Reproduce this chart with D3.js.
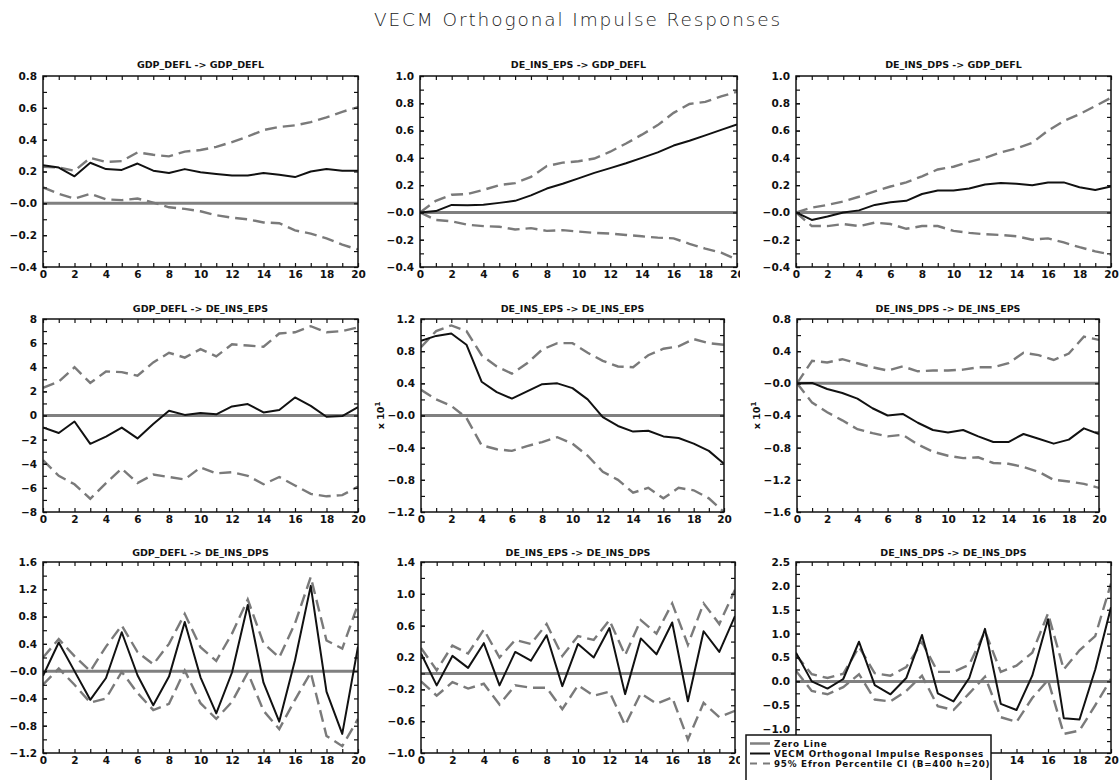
<!DOCTYPE html>
<html>
<head>
<meta charset="utf-8">
<script src="https://cdn.jsdelivr.net/npm/d3@7"></script>
<style>
  body { margin: 0; background: #fff; }
  svg { display: block; }
</style>
</head>
<body>
<svg id="chart" width="1119" height="780"></svg>
<script>
// horizon
const steps = d3.range(0, 21);

// panel titles (impulse -> response)
const panelTitles = [
  "GDP_DEFL -> GDP_DEFL", "DE_INS_EPS -> GDP_DEFL", "DE_INS_DPS -> GDP_DEFL",
  "GDP_DEFL -> DE_INS_EPS", "DE_INS_EPS -> DE_INS_EPS", "DE_INS_DPS -> DE_INS_EPS",
  "GDP_DEFL -> DE_INS_DPS", "DE_INS_EPS -> DE_INS_DPS", "DE_INS_DPS -> DE_INS_DPS"
];

// y domains, label step and labels (bottom to top)
const yDomains = [[-0.4, 0.8], [-0.4, 1.0], [-0.4, 1.0], [-8, 8], [-1.2, 1.2], [-1.6, 0.8], [-1.2, 1.6], [-1.0, 1.4], [-1.5, 2.5]];
const yLabelSteps = [0.2, 0.2, 0.2, 2, 0.4, 0.4, 0.4, 0.4, 0.5];
const yTickLabels = [
  ["−0.4", "−0.2", "−0.0", "0.2", "0.4", "0.6", "0.8"],
  ["−0.4", "−0.2", "−0.0", "0.2", "0.4", "0.6", "0.8", "1.0"],
  ["−0.4", "−0.2", "−0.0", "0.2", "0.4", "0.6", "0.8", "1.0"],
  ["−8", "−6", "−4", "−2", "0", "2", "4", "6", "8"],
  ["−1.2", "−0.8", "−0.4", "−0.0", "0.4", "0.8", "1.2"],
  ["−1.6", "−1.2", "−0.8", "−0.4", "−0.0", "0.4", "0.8"],
  ["−1.2", "−0.8", "−0.4", "−0.0", "0.4", "0.8", "1.2", "1.6"],
  ["−1.0", "−0.6", "−0.2", "0.2", "0.6", "1.0", "1.4"],
  ["−1.5", "−1.0", "−0.5", "0.0", "0.5", "1.0", "1.5", "2.0", "2.5"]
];
const yScaleNotes = ["", "", "", "", "10", "10", "", "", ""];

// GDP_DEFL -> GDP_DEFL
const gdpGdpResp = [0.24, 0.225, 0.17, 0.255, 0.215, 0.21, 0.25, 0.205, 0.19, 0.215, 0.195, 0.185, 0.175, 0.175, 0.19, 0.18, 0.165, 0.2, 0.215, 0.205, 0.205];
const gdpGdpUp = [0.23, 0.225, 0.205, 0.285, 0.26, 0.265, 0.32, 0.305, 0.295, 0.325, 0.335, 0.355, 0.385, 0.42, 0.46, 0.48, 0.49, 0.51, 0.54, 0.575, 0.605];
const gdpGdpLo = [0.10, 0.06, 0.03, 0.06, 0.025, 0.02, 0.03, 0.005, -0.025, -0.035, -0.05, -0.075, -0.09, -0.10, -0.12, -0.125, -0.17, -0.19, -0.22, -0.26, -0.29];

// DE_INS_EPS -> GDP_DEFL
const epsGdpResp = [0.0, 0.01, 0.055, 0.053, 0.057, 0.07, 0.085, 0.125, 0.175, 0.21, 0.25, 0.29, 0.325, 0.36, 0.40, 0.44, 0.49, 0.525, 0.565, 0.605, 0.645];
const epsGdpUp = [0.0, 0.085, 0.13, 0.135, 0.165, 0.20, 0.215, 0.26, 0.34, 0.365, 0.375, 0.395, 0.445, 0.505, 0.57, 0.64, 0.73, 0.795, 0.81, 0.85, 0.885];
const epsGdpLo = [0.0, -0.055, -0.065, -0.09, -0.1, -0.105, -0.125, -0.115, -0.135, -0.13, -0.14, -0.15, -0.155, -0.165, -0.175, -0.185, -0.19, -0.23, -0.265, -0.295, -0.345];

// DE_INS_DPS -> GDP_DEFL
const dpsGdpResp = [0.0, -0.055, -0.03, 0.0, 0.015, 0.055, 0.075, 0.085, 0.135, 0.16, 0.16, 0.175, 0.205, 0.215, 0.21, 0.2, 0.22, 0.22, 0.185, 0.165, 0.19];
const dpsGdpUp = [0.0, 0.035, 0.055, 0.08, 0.115, 0.155, 0.19, 0.22, 0.265, 0.315, 0.335, 0.37, 0.40, 0.44, 0.47, 0.51, 0.60, 0.67, 0.72, 0.78, 0.84];
const dpsGdpLo = [0.0, -0.1, -0.1, -0.085, -0.1, -0.075, -0.085, -0.12, -0.1, -0.1, -0.135, -0.15, -0.16, -0.165, -0.175, -0.2, -0.19, -0.22, -0.255, -0.285, -0.31];

// GDP_DEFL -> DE_INS_EPS
const gdpEpsResp = [-1.0, -1.45, -0.5, -2.35, -1.75, -1.0, -1.9, -0.7, 0.4, 0.05, 0.2, 0.1, 0.75, 0.95, 0.25, 0.45, 1.5, 0.8, -0.1, -0.05, 0.7];
const gdpEpsUp = [2.3, 2.8, 4.0, 2.7, 3.65, 3.6, 3.3, 4.4, 5.2, 4.8, 5.5, 4.9, 5.9, 5.8, 5.7, 6.8, 6.9, 7.4, 6.9, 7.0, 7.3];
const gdpEpsLo = [-3.7, -5.0, -5.7, -6.9, -5.6, -4.4, -5.6, -4.9, -5.1, -5.3, -4.3, -4.8, -4.7, -5.0, -5.7, -5.1, -5.8, -6.5, -6.7, -6.6, -5.9];

// DE_INS_EPS -> DE_INS_EPS (axis units x 10)
const epsEpsResp = [0.93, 0.99, 1.02, 0.88, 0.42, 0.29, 0.21, 0.3, 0.39, 0.4, 0.34, 0.2, -0.02, -0.13, -0.2, -0.19, -0.26, -0.28, -0.35, -0.44, -0.6];
const epsEpsUp = [0.85, 1.05, 1.12, 1.05, 0.75, 0.61, 0.52, 0.65, 0.82, 0.9, 0.9, 0.78, 0.68, 0.61, 0.6, 0.75, 0.83, 0.86, 0.95, 0.9, 0.88];
const epsEpsLo = [0.32, 0.2, 0.12, -0.03, -0.37, -0.42, -0.44, -0.38, -0.33, -0.27, -0.35, -0.5, -0.7, -0.8, -0.96, -0.9, -1.03, -0.9, -0.93, -1.03, -1.2];

// DE_INS_DPS -> DE_INS_EPS (axis units x 10)
const dpsEpsResp = [0.0, 0.005, -0.07, -0.12, -0.19, -0.31, -0.4, -0.38, -0.49, -0.58, -0.61, -0.58, -0.66, -0.73, -0.73, -0.63, -0.69, -0.75, -0.7, -0.56, -0.63];
const dpsEpsUp = [0.0, 0.28, 0.26, 0.3, 0.25, 0.2, 0.16, 0.21, 0.15, 0.16, 0.16, 0.17, 0.2, 0.2, 0.25, 0.38, 0.35, 0.29, 0.37, 0.58, 0.54];
const dpsEpsLo = [0.0, -0.24, -0.36, -0.46, -0.57, -0.62, -0.66, -0.64, -0.76, -0.85, -0.9, -0.93, -0.92, -0.99, -1.0, -1.04, -1.1, -1.2, -1.22, -1.25, -1.3];

// GDP_DEFL -> DE_INS_DPS
const gdpDpsResp = [-0.07, 0.42, 0.0, -0.42, -0.1, 0.57, -0.06, -0.5, -0.08, 0.72, -0.09, -0.62, -0.02, 0.97, -0.17, -0.74, 0.16, 1.25, -0.3, -0.92, 0.36];
const gdpDpsUp = [0.2, 0.47, 0.22, 0.0, 0.36, 0.67, 0.28, 0.1, 0.4, 0.84, 0.35, 0.15, 0.55, 1.05, 0.41, 0.2, 0.7, 1.38, 0.45, 0.33, 0.98];
const gdpDpsLo = [-0.2, 0.04, -0.2, -0.46, -0.4, -0.01, -0.32, -0.57, -0.48, 0.01, -0.47, -0.7, -0.45, -0.02, -0.58, -0.85, -0.42, -0.02, -0.95, -1.1, -0.7];

// DE_INS_EPS -> DE_INS_DPS
const epsDpsResp = [0.25, -0.15, 0.22, 0.07, 0.38, -0.15, 0.27, 0.16, 0.48, -0.16, 0.37, 0.2, 0.57, -0.26, 0.44, 0.24, 0.64, -0.35, 0.53, 0.27, 0.72];
const epsDpsUp = [0.32, 0.04, 0.35, 0.25, 0.55, 0.2, 0.42, 0.37, 0.62, 0.22, 0.47, 0.42, 0.67, 0.23, 0.67, 0.5, 0.88, 0.36, 0.88, 0.62, 1.05];
const epsDpsLo = [-0.1, -0.28, -0.11, -0.19, -0.13, -0.39, -0.15, -0.18, -0.18, -0.45, -0.15, -0.28, -0.23, -0.65, -0.25, -0.38, -0.3, -0.83, -0.37, -0.55, -0.47];

// DE_INS_DPS -> DE_INS_DPS
const dpsDpsResp = [0.6, 0.0, -0.15, 0.05, 0.83, -0.08, -0.27, 0.07, 0.97, -0.25, -0.42, 0.07, 1.1, -0.47, -0.6, 0.12, 1.3, -0.77, -0.8, 0.25, 1.55];
const dpsDpsUp = [0.55, 0.15, 0.07, 0.16, 0.72, 0.17, 0.12, 0.3, 0.82, 0.2, 0.2, 0.35, 1.05, 0.2, 0.33, 0.6, 1.42, 0.25, 0.65, 0.95, 2.05];
const dpsDpsLo = [0.22, -0.2, -0.27, -0.12, 0.15, -0.38, -0.42, -0.2, 0.12, -0.52, -0.6, -0.25, 0.1, -0.75, -0.85, -0.35, 0.03, -1.1, -1.03, -0.5, 0.05];

const responses = [gdpGdpResp, epsGdpResp, dpsGdpResp, gdpEpsResp, epsEpsResp, dpsEpsResp, gdpDpsResp, epsDpsResp, dpsDpsResp];
const uppers = [gdpGdpUp, epsGdpUp, dpsGdpUp, gdpEpsUp, epsEpsUp, dpsEpsUp, gdpDpsUp, epsDpsUp, dpsDpsUp];
const lowers = [gdpGdpLo, epsGdpLo, dpsGdpLo, gdpEpsLo, epsEpsLo, dpsEpsLo, gdpDpsLo, epsDpsLo, dpsDpsLo];

const legendLabels = ["Zero Line", "VECM Orthogonal Impulse Responses", "95% Efron Percentile CI (B=400 h=20)"];

// frame positions of each panel
const frames = [
  { x0: 43, x1: 358, y0: 76, y1: 267 }, { x0: 420, x1: 737, y0: 76, y1: 267 }, { x0: 796, x1: 1111, y0: 76, y1: 267 },
  { x0: 43, x1: 358, y0: 319, y1: 512 }, { x0: 421, x1: 724, y0: 319, y1: 512 }, { x0: 797, x1: 1099, y0: 319, y1: 512 },
  { x0: 43, x1: 358, y0: 562, y1: 753 }, { x0: 421, x1: 735, y0: 562, y1: 753 }, { x0: 796, x1: 1111, y0: 562, y1: 753 }
];
const titleY = [68, 68, 68, 312, 312, 312, 556, 556, 556];

// legend box (it sits over the lower right panel)
const legendBox = { x: 746, y: 735, w: 245, h: 50 };

const labelFont = "'DejaVu Sans', Arial, sans-serif";
const grey = "#7a7a7a";

const svg = d3.select("#chart");
const defs = svg.append("defs");

// middle column gets cut at the right column border
defs.append("clipPath").attr("id", "colclip")
  .append("rect").attr("x", 0).attr("y", 0).attr("width", 740).attr("height", 780);

svg.append("text")
  .attr("x", 578)
  .attr("y", 26)
  .attr("text-anchor", "middle")
  .attr("font-family", labelFont)
  .attr("font-weight", 200)
  .attr("font-size", 18.5)
  .attr("letter-spacing", 1.9)
  .attr("fill", "#222")
  .text("VECM Orthogonal Impulse Responses");

function underLegend(px, py) {
  return px > legendBox.x && px < legendBox.x + legendBox.w + 6 && py > legendBox.y - 4;
}

panelTitles.forEach(function (title, i) {
  const f = frames[i];
  const g = svg.append("g");
  if (i % 3 === 1) g.attr("clip-path", "url(#colclip)");

  const x = d3.scaleLinear().domain([0, 20]).range([f.x0, f.x1]);
  const y = d3.scaleLinear().domain(yDomains[i]).range([f.y1, f.y0]);

  const st = yLabelSteps[i];
  const lo = yDomains[i][0], hi = yDomains[i][1];
  const nMajor = Math.round((hi - lo) / st);
  const majorVals = d3.range(nMajor + 1).map(k => lo + k * st);
  const minorVals = d3.range(2 * nMajor + 1).map(k => lo + k * st / 2);

  // clip for the curves
  defs.append("clipPath").attr("id", "plot" + i)
    .append("rect").attr("x", f.x0).attr("y", f.y0 - 1)
    .attr("width", f.x1 - f.x0).attr("height", f.y1 - f.y0 + 2);

  const plot = g.append("g").attr("clip-path", `url(#plot${i})`);

  // zero line
  plot.append("line")
    .attr("x1", f.x0).attr("x2", f.x1)
    .attr("y1", y(0)).attr("y2", y(0))
    .attr("stroke", "#808080")
    .attr("stroke-width", 3);

  const line = d3.line()
    .x((d, k) => x(steps[k]))
    .y(d => y(d));

  [uppers[i], lowers[i]].forEach(function (band) {
    plot.append("path")
      .datum(band)
      .attr("fill", "none")
      .attr("stroke", grey)
      .attr("stroke-width", 2.4)
      .attr("stroke-dasharray", "12,6")
      .attr("d", line);
  });

  plot.append("path")
    .datum(responses[i])
    .attr("fill", "none")
    .attr("stroke", "#111")
    .attr("stroke-width", 2)
    .attr("stroke-linejoin", "round")
    .attr("d", line);

  // axes, ticks pointing inward; labels hidden by the legend are left out
  const bottom = g.append("g")
    .attr("transform", `translate(0,${f.y1})`)
    .call(d3.axisBottom(x).tickValues(steps).tickSize(-4).tickPadding(4)
      .tickFormat(d => (d % 2 || underLegend(x(d), f.y1 + 6)) ? "" : d));
  g.append("g")
    .attr("transform", `translate(0,${f.y0})`)
    .call(d3.axisTop(x).tickValues(steps).tickSize(-4).tickFormat(""));
  const left = g.append("g")
    .attr("transform", `translate(${f.x0},0)`)
    .call(d3.axisLeft(y).tickValues(majorVals).tickSize(-4).tickPadding(6)
      .tickFormat((d, k) => underLegend(f.x0 - 10, y(d)) ? "" : yTickLabels[i][k]));
  g.append("g")
    .attr("transform", `translate(${f.x0},0)`)
    .call(d3.axisLeft(y).tickValues(minorVals).tickSize(-4).tickFormat(""));
  g.append("g")
    .attr("transform", `translate(${f.x1},0)`)
    .call(d3.axisRight(y).tickValues(minorVals).tickSize(-4).tickFormat(""));

  g.selectAll(".domain").remove();
  g.selectAll(".tick line").attr("stroke", "#111").attr("stroke-width", 1.2);
  [bottom, left].forEach(a => a.selectAll("text")
    .attr("font-family", labelFont)
    .attr("font-weight", "bold")
    .attr("font-size", 10.5)
    .attr("fill", "#111"));

  // frame
  g.append("rect")
    .attr("x", f.x0).attr("y", f.y0)
    .attr("width", f.x1 - f.x0).attr("height", f.y1 - f.y0)
    .attr("fill", "none")
    .attr("stroke", "#111")
    .attr("stroke-width", 1.5);

  g.append("text")
    .attr("x", (f.x0 + f.x1) / 2)
    .attr("y", titleY[i])
    .attr("text-anchor", "middle")
    .attr("font-family", labelFont)
    .attr("font-weight", "bold")
    .attr("font-size", 9.5)
    .attr("fill", "#111")
    .text(title);

  if (yScaleNotes[i]) {
    const note = g.append("text")
      .attr("transform", `translate(${f.x0 - 37},${(f.y0 + f.y1) / 2}) rotate(-90)`)
      .attr("text-anchor", "middle")
      .attr("font-family", labelFont)
      .attr("font-weight", "bold")
      .attr("font-size", 9.5)
      .attr("fill", "#111");
    note.append("tspan").text("x " + yScaleNotes[i]);
    note.append("tspan").attr("dy", -4).attr("font-size", 7).text("1");
  }
});

// legend
const legend = svg.append("g");
legend.append("rect")
  .attr("x", legendBox.x).attr("y", legendBox.y)
  .attr("width", legendBox.w).attr("height", legendBox.h)
  .attr("fill", "#fff")
  .attr("stroke", "#111")
  .attr("stroke-width", 1.5);

const legendStyles = [
  { stroke: "#808080", width: 2.5, dash: null },
  { stroke: "#111", width: 2, dash: null },
  { stroke: grey, width: 2.2, dash: "7,6" }
];
legendLabels.forEach(function (lab, k) {
  const yy = legendBox.y + 8.5 + k * 10;
  legend.append("line")
    .attr("x1", legendBox.x + 4).attr("x2", legendBox.x + 24)
    .attr("y1", yy).attr("y2", yy)
    .attr("stroke", legendStyles[k].stroke)
    .attr("stroke-width", legendStyles[k].width)
    .attr("stroke-dasharray", legendStyles[k].dash);
  legend.append("text")
    .attr("x", legendBox.x + 28)
    .attr("y", yy + 3.3)
    .attr("font-family", labelFont)
    .attr("font-weight", "bold")
    .attr("font-size", 8.8)
    .attr("letter-spacing", 0.75)
    .attr("fill", "#111")
    .text(lab);
});
</script>
</body>
</html>
